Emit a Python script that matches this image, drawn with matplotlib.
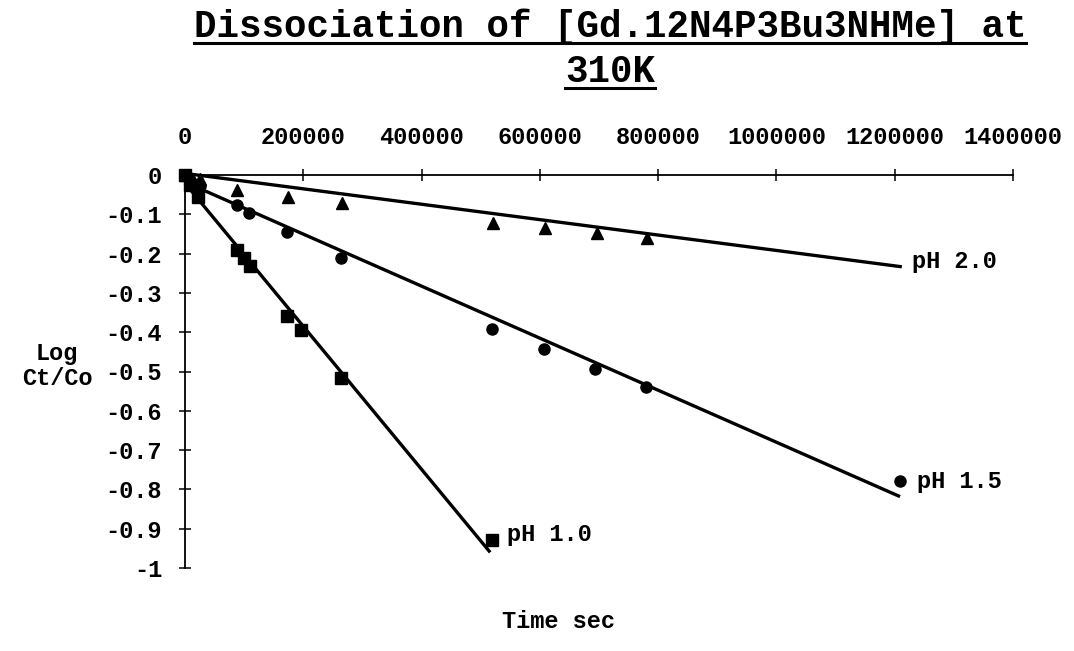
import matplotlib
matplotlib.use("Agg")
import matplotlib.pyplot as plt
from matplotlib.lines import Line2D

plt.rcParams["font.family"] = ["Liberation Mono", "DejaVu Sans Mono"]
plt.rcParams["font.weight"] = "bold"

# Measured log(Ct/Co) against time (s) for each pH
time_ph10 = [0, 8000, 22000, 88000, 100000, 110000, 173000, 196000, 264000, 519000]
logc_ph10 = [0, -0.025, -0.055, -0.191, -0.211, -0.232, -0.359, -0.394, -0.517, -0.929]

time_ph15 = [0, 8000, 25000, 88000, 108000, 173000, 264000, 519000, 607000, 693000, 780000, 1209000]
logc_ph15 = [0, -0.012, -0.027, -0.076, -0.097, -0.145, -0.211, -0.392, -0.443, -0.494, -0.539, -0.779]

time_ph20 = [0, 25000, 88000, 174000, 265000, 521000, 609000, 697000, 781000]
logc_ph20 = [0, -0.01, -0.038, -0.056, -0.071, -0.122, -0.135, -0.148, -0.160]

# Linear trendlines: slope, intercept, last time of the line
series_names = ["pH 1.0", "pH 1.5", "pH 2.0"]
fit_slope = [-1.82e-6, -6.62e-7, -1.96e-7]
fit_intercept = [-0.021, -0.018, 0.004]
fit_end = [516000, 1209000, 1212000]

x_ticks = [0, 200000, 400000, 600000, 800000, 1000000, 1200000, 1400000]
y_ticks = [0, -0.1, -0.2, -0.3, -0.4, -0.5, -0.6, -0.7, -0.8, -0.9, -1]
y_tick_labels = ["0", "-0.1", "-0.2", "-0.3", "-0.4", "-0.5", "-0.6", "-0.7", "-0.8", "-0.9", "-1"]

W, H = 1074, 651
fig = plt.figure(figsize=(W / 100, H / 100), dpi=100)
ax = fig.add_axes([185 / W, 1 - 568 / H, (1013 - 185) / W, (568 - 175) / H])
ax.set_xlim(0, 1400000)
ax.set_ylim(-1, 0)

for s in ("bottom", "right"):
    ax.spines[s].set_visible(False)
for s in ("top", "left"):
    ax.spines[s].set_linewidth(1.3)

ax.xaxis.tick_top()
ax.set_xticks(x_ticks)
ax.set_xticklabels([str(v) for v in x_ticks])
ax.set_yticks(y_ticks)
ax.set_yticklabels(y_tick_labels)
ax.tick_params(axis="both", direction="inout", length=9, width=1.1,
               labelsize=17)
ax.tick_params(axis="x", pad=14)
ax.tick_params(axis="y", pad=12)

series = [
    (time_ph10, logc_ph10, "s", 8),
    (time_ph15, logc_ph15, "o", 8),
    (time_ph20, logc_ph20, "^", 9),
]
label_offsets = [(11, 4), (12, 0), (7, 4)]

for i, (t, y, mk, ms) in enumerate(series):
    ax.plot(t, y, linestyle="none", marker=mk, markersize=ms, color="black",
            clip_on=False, zorder=3)
    xs = [0, fit_end[i]]
    ys = [fit_intercept[i] + fit_slope[i] * x for x in xs]
    ax.plot(xs, ys, color="black", linewidth=2.4, solid_capstyle="butt",
            clip_on=False, zorder=2)
    # label next to the last point of each series
    if i == 2:
        anchor = (xs[1], ys[1])
    else:
        anchor = (t[-1], y[-1])
    ax.annotate(series_names[i], xy=anchor, xytext=label_offsets[i],
                textcoords="offset points", ha="left", va="center",
                fontsize=17, fontweight="bold")

# axis titles
fig.text(57 / W, 1 - 366 / H, "Log\nCt/Co", ha="center", va="center",
         fontsize=17, fontweight="bold", linespacing=1.1)
fig.text(559 / W, 1 - 621 / H, "Time sec", ha="center", va="center",
         fontsize=17, fontweight="bold")

# underlined two-line title
title_lines = ["Dissociation of [Gd.12N4P3Bu3NHMe] at", "310K"]
title_y = [27, 72]
title_texts = []
for line, yy in zip(title_lines, title_y):
    title_texts.append(fig.text(610 / W, 1 - yy / H, line, ha="center",
                                va="center", fontsize=27, fontweight="bold"))

fig.canvas.draw()
renderer = fig.canvas.get_renderer()
for txt in title_texts:
    bb = txt.get_window_extent(renderer)
    y_line = bb.y0 + 2
    fig.add_artist(Line2D([bb.x0 / W, bb.x1 / W], [y_line / H, y_line / H],
                          transform=fig.transFigure, color="black",
                          linewidth=2.2))

fig.savefig("out.png", dpi=100)
